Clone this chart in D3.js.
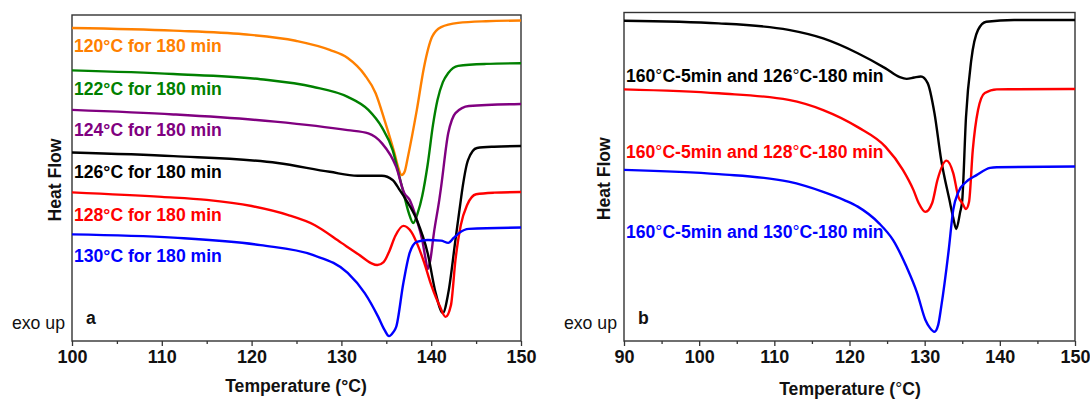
<!DOCTYPE html>
<html>
<head>
<meta charset="utf-8">
<script src="https://cdn.jsdelivr.net/npm/d3@7"></script>
<style>
  html, body { margin: 0; padding: 0; background: #fff; }
  svg { display: block; }
  text { font-family: "Liberation Sans", Arial, Helvetica, sans-serif; }
</style>
</head>
<body>
<svg id="chart" width="1090" height="399"></svg>
<script>
// ---- Panel a: isothermal crystallization, 180 min at each temperature ----
const ticksA = [100, 110, 120, 130, 140, 150];

const t120 = [100, 111.3, 119.1, 124.9, 128.7, 130.7, 132.6, 133.8, 134.9, 135.9, 136.3, 136.7, 137.05, 137.4, 138.4, 139.2, 140.1, 141.1, 143, 146.1, 150];
const hf120 = [9.60, 9.52, 9.41, 9.21, 8.93, 8.68, 8.16, 7.61, 6.69, 5.77, 5.35, 5.09, 5.20, 5.64, 7.09, 8.40, 9.33, 9.63, 9.76, 9.81, 9.83];

const t122 = [100, 111.3, 121, 126.8, 130.7, 133, 134.5, 135.7, 136.5, 137.0, 137.5, 138.0, 138.5, 139.0, 139.6, 140.2, 140.7, 141.3, 141.9, 143, 146.1, 150];
const hf122 = [8.30, 8.19, 8.03, 7.80, 7.49, 7.09, 6.56, 5.86, 5.00, 4.45, 3.93, 3.62, 3.93, 4.45, 5.40, 6.63, 7.39, 7.94, 8.22, 8.44, 8.50, 8.52];

const t124 = [100, 111.3, 122.6, 130.7, 133, 134.5, 136.1, 137.0, 137.6, 138.4, 139.0, 139.4, 139.6, 139.9, 140.3, 140.9, 141.1, 141.9, 142.3, 142.7, 144.2, 150];
const hf124 = [7.09, 6.95, 6.73, 6.47, 6.37, 6.07, 5.34, 4.54, 4.33, 3.71, 3.10, 2.48, 2.21, 2.48, 3.31, 4.33, 4.72, 6.38, 6.78, 6.99, 7.21, 7.27];

const t126 = [100, 111.3, 122.9, 128.7, 131.8, 134.5, 135.7, 136.5, 137.2, 138.4, 139.6, 140.5, 141.3, 141.9, 142.7, 143.3, 143.5, 144.1, 145.1, 147, 150];
const hf126 = [5.78, 5.67, 5.46, 5.19, 5.07, 5.07, 4.94, 4.63, 4.33, 3.71, 2.70, 1.47, 0.86, 1.47, 3.10, 4.33, 4.72, 5.55, 5.92, 5.96, 5.98];

const t128 = [100, 110, 115, 120, 124, 127, 130, 132, 133.3, 134, 134.7, 135.3, 136, 136.9, 137.8, 138.5, 139.2, 140, 141, 141.6, 142.2, 142.7, 143.3, 144, 145, 147, 150];
const hf128 = [4.56, 4.42, 4.33, 4.14, 3.87, 3.56, 3.01, 2.64, 2.39, 2.33, 2.42, 2.73, 3.22, 3.53, 3.34, 2.94, 2.42, 1.72, 1.04, 0.74, 1.10, 2.48, 3.56, 4.17, 4.50, 4.55, 4.57];

const t130 = [100, 111.3, 121, 126.8, 130.7, 132.6, 134.1, 134.8, 135.3, 135.8, 136.1, 136.9, 137.6, 138.4, 139.6, 141.1, 141.9, 142.5, 143.1, 144.2, 150];
const hf130 = [3.27, 3.17, 2.94, 2.64, 2.09, 1.47, 0.74, 0.34, 0.15, 0.28, 0.43, 1.78, 2.70, 3.04, 3.10, 3.08, 3.01, 3.16, 3.31, 3.44, 3.48];

const labelsA = ["120°C for 180 min", "122°C for 180 min", "124°C for 180 min", "126°C for 180 min", "128°C for 180 min", "130°C for 180 min"];
const colorsA = ["#ff8000", "#008000", "#800080", "#000000", "#ff0000", "#0000ff"];

// ---- Panel b: melt at 160 °C for 5 min, then isothermal for 180 min ----
const ticksB = [90, 100, 110, 120, 130, 140, 150];

const tB126 = [90, 102.6, 111.9, 116.5, 121.1, 124.8, 126.7, 127.6, 128.6, 129.5, 130.4, 131.3, 132.2, 133.3, 133.8, 134.2, 134.7, 135.0, 135.5, 136.2, 137.1, 138.2, 141.9, 150];
const hfB126 = [9.75, 9.67, 9.47, 9.21, 8.76, 8.30, 8.03, 7.98, 8.02, 8.05, 7.85, 6.94, 5.51, 4.29, 3.75, 3.41, 3.90, 4.29, 6.82, 8.55, 9.47, 9.72, 9.77, 9.77];

const tB128 = [90, 102.6, 111.9, 116.5, 121.1, 124.8, 127.1, 128.5, 129.2, 130.1, 131.0, 131.7, 132.9, 133.8, 134.5, 135.0, 135.5, 135.9, 136.4, 137.1, 138.0, 139.6, 150];
const hfB128 = [7.66, 7.54, 7.34, 7.03, 6.51, 5.91, 5.21, 4.60, 4.20, 3.93, 4.20, 4.90, 5.49, 5.11, 4.38, 4.20, 4.02, 4.23, 5.81, 7.03, 7.55, 7.66, 7.67];

const tB130 = [90, 102.6, 111.9, 116.5, 119.3, 121.1, 123.9, 125.8, 127.6, 129.0, 130.1, 130.7, 131.3, 131.8, 132.2, 133.2, 133.8, 134.5, 135.5, 136.9, 138.7, 139.6, 150];
const hfB130 = [5.21, 5.08, 4.85, 4.54, 4.29, 4.09, 3.59, 3.07, 2.25, 1.46, 0.64, 0.40, 0.28, 0.49, 1.04, 2.77, 3.99, 4.54, 4.84, 5.05, 5.27, 5.29, 5.31];

const labelsB = [["160", "C-5min and 126", "C-180 min"], ["160", "C-5min and 128", "C-180 min"], ["160", "C-5min and 130", "C-180 min"]];
const colorsB = ["#000000", "#ff0000", "#0000ff"];

const svg = d3.select("#chart");
const FONT = 17.6;

function drawPanel(opts) {
  const { left, right, top, bottom, xDomain, ticks, series, letter, labels, labelX, labelY, yLabelX, titleX, titleY, symbolDegree } = opts;
  const x = d3.scaleLinear().domain(xDomain).range([left, right]);
  const y = d3.scaleLinear().domain([0, 10]).range([bottom, top]);
  const g = svg.append("g");

  // frame
  g.append("rect")
    .attr("x", left).attr("y", top)
    .attr("width", right - left).attr("height", bottom - top)
    .attr("fill", "none").attr("stroke", "#333").attr("stroke-width", 1.4);

  // major ticks with labels
  const axis = d3.axisBottom(x).tickValues(ticks).tickSize(5).tickSizeOuter(0).tickFormat(d3.format("d"));
  const ax = g.append("g").attr("transform", `translate(0,${bottom})`).call(axis);
  ax.select(".domain").remove();
  ax.selectAll(".tick line").attr("stroke", "#333").attr("stroke-width", 1.3);
  ax.selectAll(".tick text")
    .attr("y", 9)
    .attr("fill", "#111")
    .style("font-size", "18px")
    .style("font-weight", "bold")
    .style("font-family", "'Liberation Sans', Arial, sans-serif");

  // minor ticks
  const minor = d3.range(xDomain[0] + 5, xDomain[1], 10);
  const axMinor = d3.axisBottom(x).tickValues(minor).tickSize(3).tickFormat("");
  const am = g.append("g").attr("transform", `translate(0,${bottom})`).call(axMinor);
  am.select(".domain").remove();
  am.selectAll(".tick line").attr("stroke", "#333").attr("stroke-width", 1.3);

  // curves
  const line = d3.line()
    .x(d => x(d[0]))
    .y(d => y(d[1]))
    .curve(d3.curveMonotoneX);
  series.forEach(s => {
    const pts = s.t.map((t, i) => [t, s.hf[i]]);
    g.append("path")
      .attr("d", line(pts))
      .attr("fill", "none")
      .attr("stroke", s.color)
      .attr("stroke-width", 2.4)
      .attr("stroke-linejoin", "round");
  });

  // curve labels
  labels.forEach((lab, i) => {
    const t = g.append("text")
      .attr("x", labelX)
      .attr("y", labelY[i])
      .attr("fill", series[i].color)
      .style("font-size", FONT + "px")
      .style("font-weight", "bold");
    if (Array.isArray(lab)) {
      t.append("tspan").text(lab[0]);
      t.append("tspan").style("font-weight", "normal").text("°");
      t.append("tspan").text(lab[1]);
      t.append("tspan").style("font-weight", "normal").text("°");
      t.append("tspan").text(lab[2]);
    } else {
      t.text(lab);
    }
  });

  // axis titles
  g.append("text")
    .attr("transform", `translate(${yLabelX},${(top + bottom) / 2 + 2}) rotate(-90)`)
    .attr("text-anchor", "middle")
    .attr("fill", "#111")
    .style("font-size", FONT + "px")
    .style("font-weight", "bold")
    .text("Heat Flow");

  const xt = g.append("text")
    .attr("x", titleX).attr("y", titleY)
    .attr("text-anchor", "middle")
    .attr("fill", "#111")
    .style("font-size", FONT + "px")
    .style("font-weight", "bold");
  xt.append("tspan").text("Temperature (");
  xt.append("tspan").style("font-weight", symbolDegree ? "normal" : "bold").text("°");
  xt.append("tspan").text("C)");

  g.append("text")
    .attr("x", left - 7).attr("y", bottom - 12)
    .attr("text-anchor", "end")
    .attr("fill", "#111")
    .style("font-size", "17.7px")
    .text("exo up");

  g.append("text")
    .attr("x", left + 14).attr("y", bottom - 17)
    .attr("fill", "#111")
    .style("font-size", FONT + "px")
    .style("font-weight", "bold")
    .text(letter);
}

drawPanel({
  left: 72, right: 521, top: 15, bottom: 341,
  xDomain: [100, 150], ticks: ticksA, letter: "a",
  series: [
    { t: t120, hf: hf120, color: colorsA[0] },
    { t: t122, hf: hf122, color: colorsA[1] },
    { t: t124, hf: hf124, color: colorsA[2] },
    { t: t126, hf: hf126, color: colorsA[3] },
    { t: t128, hf: hf128, color: colorsA[4] },
    { t: t130, hf: hf130, color: colorsA[5] }
  ],
  labels: labelsA, labelX: 74, labelY: [52, 95, 136, 178, 221, 262],
  yLabelX: 61, titleX: 296, titleY: 392, symbolDegree: false
});

drawPanel({
  left: 624, right: 1075, top: 12.5, bottom: 341,
  xDomain: [90, 150], ticks: ticksB, letter: "b",
  series: [
    { t: tB126, hf: hfB126, color: colorsB[0] },
    { t: tB128, hf: hfB128, color: colorsB[1] },
    { t: tB130, hf: hfB130, color: colorsB[2] }
  ],
  labels: labelsB, labelX: 626, labelY: [82, 158, 238],
  yLabelX: 610, titleX: 850, titleY: 395, symbolDegree: true
});
</script>
</body>
</html>
